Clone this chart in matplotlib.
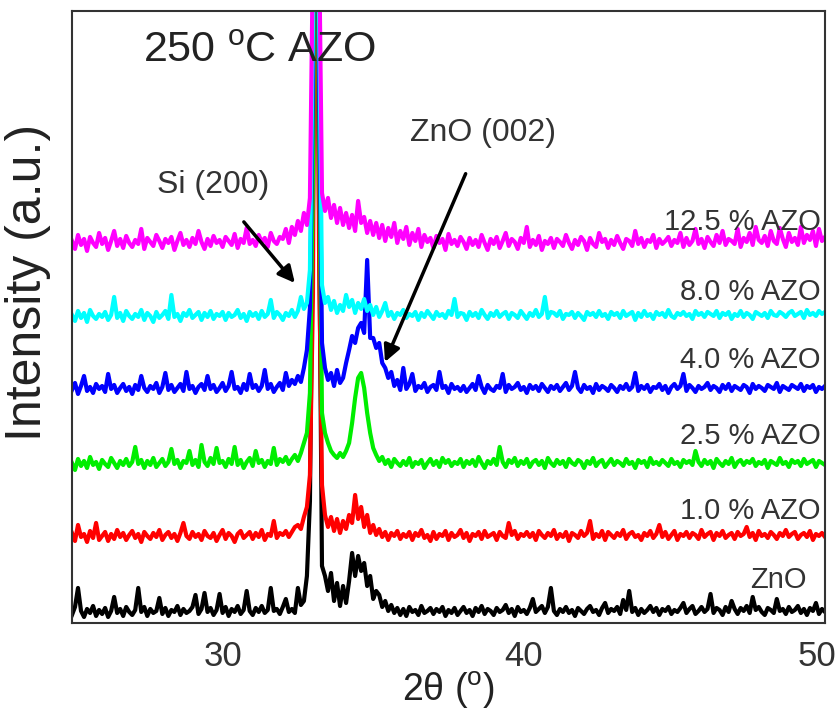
import numpy as np
import matplotlib
matplotlib.use("Agg")
import matplotlib.pyplot as plt
import matplotlib.transforms as mtransforms

plt.rcParams['font.family'] = ['Liberation Sans', 'DejaVu Sans']
plt.rcParams['mathtext.fontset'] = 'custom'
plt.rcParams['mathtext.rm'] = 'Liberation Sans'

# 2theta grid, 0.1 deg steps from 25 to 50
two_theta = np.linspace(25, 50, 251)

# intensities (a.u.), relative to each trace's baseline
zno = [
    6, 14, 33, 10, 4, 12, 8, 15, 5, 11,
    7, 13, 4, 10, 24, 8, 12, 5, 14, 9,
    6, 11, 33, 9, 14, 5, 12, 8, 10, 23,
    7, 13, 5, 11, 9, 15, 6, 12, 8, 10,
    14, 26, 7, 12, 28, 9, 13, 6, 11, 27,
    8, 14, 5, 12, 9, 15, 7, 11, 30, 10,
    6, 13, 9, 15, 8, 11, 33, 10, 12, 7,
    14, 22, 9, 12, 8, 33, 16, 20, 45, 120,
    420, 900, 420, 55, 45, 30, 48, 20, 38, 15,
    35, 18, 40, 68, 45, 65, 50, 58, 35, 45,
    22, 30, 26, 14, 20, 10, 16, 8, 13, 6,
    12, 5, 14, 9, 11, 6, 15, 8, 10, 13,
    7, 12, 9, 14, 5, 11, 8, 13, 6, 10,
    14, 8, 11, 5, 13, 9, 15, 7, 12, 10,
    6, 13, 9, 11, 16, 8, 12, 5, 14, 9,
    11, 7, 13, 22, 9, 12, 15, 8, 14, 33,
    10, 6, 12, 9, 14, 8, 11, 5, 13, 10,
    7, 12, 15, 9, 11, 6, 13, 18, 8, 12,
    10, 14, 7, 21, 11, 30, 9, 13, 6, 12,
    8, 11, 15, 9, 13, 6, 12, 10, 14, 7,
    11, 9, 13, 18, 8, 12, 15, 7, 10, 14,
    9, 12, 27, 8, 13, 11, 6, 14, 9, 20,
    12, 7, 13, 10, 15, 8, 24, 11, 14, 9,
    6, 13, 11, 8, 22, 10, 12, 7, 14, 9,
    11, 15, 8, 12, 6, 13, 10, 18, 7, 12,
    9,
]
azo_1_0 = [
    12, 4, 20, 8, 11, 3, 14, 7, 22, 5,
    9, 13, 4, 11, 6, 15, 8, 12, 5, 10,
    14, 7, 11, 3, 13, 9, 6, 12, 8, 15,
    5, 10, 13, 7, 11, 4, 12, 22, 9, 6,
    13, 8, 11, 5, 14, 9, 7, 12, 4, 10,
    15, 6, 12, 9, 3, 11, 14, 7, 10, 13,
    6, 12, 8, 15, 5, 11, 9, 24, 7, 12,
    10, 14, 8, 13, 18, 20, 16, 28, 38, 70,
    250, 900, 300, 60, 30, 18, 28, 14, 26, 12,
    24, 16, 30, 22, 50, 26, 38, 18, 30, 12,
    20, 10, 16, 8, 13, 5, 12, 9, 14, 6,
    11, 8, 13, 5, 12, 9, 15, 7, 10, 4,
    13, 6, 11, 9, 14, 5, 12, 8, 10, 15,
    7, 12, 4, 11, 9, 13, 6, 14, 8, 10,
    12, 5, 13, 9, 7, 22, 10, 14, 6, 11,
    9, 13, 8, 12, 5, 14, 10, 7, 12, 9,
    15, 6, 11, 8, 13, 4, 12, 10, 7, 14,
    9, 12, 24, 6, 11, 8, 14, 5, 13, 10,
    7, 12, 9, 15, 6, 11, 13, 8, 10, 5,
    12, 9, 14, 7, 11, 20, 8, 13, 6, 10,
    14, 5, 11, 9, 13, 7, 12, 10, 6, 15,
    8, 11, 13, 5, 12, 9, 14, 7, 10, 12,
    6, 13, 9, 11, 18, 8, 12, 5, 14, 9,
    11, 7, 13, 10, 6, 12, 9, 15, 8, 11,
    13, 6, 10, 12, 8, 14, 5, 11, 9, 12,
    8,
]
azo_2_5 = [
    10, 3, 14, 7, 12, 5, 16, 8, 11, 4,
    13, 9, 6, 15, 10, 5, 12, 8, 14, 7,
    11, 26, 9, 13, 5, 12, 8, 15, 6, 10,
    14, 7, 11, 24, 9, 13, 5, 12, 10, 22,
    8, 13, 6, 28, 11, 7, 15, 9, 25, 10,
    12, 6, 14, 9, 26, 8, 13, 5, 11, 15,
    7, 22, 10, 13, 6, 12, 9, 25, 8, 14,
    11, 16, 9, 14, 18, 12, 20, 30, 40, 80,
    300, 900, 350, 60, 40, 30, 22, 18, 15, 20,
    16, 22, 30, 50, 75, 95, 100, 85, 60, 40,
    25, 18, 12, 16, 9, 13, 6, 14, 10, 7,
    12, 8, 15, 6, 11, 9, 13, 5, 10, 14,
    8, 12, 6, 15, 10, 13, 7, 11, 9, 14,
    6, 12, 9, 13, 7, 16, 10, 5, 12, 9,
    14, 8, 26, 11, 6, 13, 10, 15, 7, 12,
    9, 14, 6, 11, 13, 8, 12, 5, 15, 10,
    7, 13, 9, 12, 6, 14, 10, 8, 13, 11,
    5, 12, 9, 15, 7, 11, 13, 6, 10, 14,
    8, 12, 10, 7, 14, 9, 11, 5, 13, 10,
    12, 6, 15, 9, 11, 8, 13, 10, 7, 14,
    9, 11, 6, 13, 10, 12, 8, 22, 11, 7,
    13, 9, 12, 5, 14, 10, 7, 12, 9, 15,
    6, 11, 13, 8, 12, 10, 14, 7, 11, 9,
    13, 5, 12, 10, 8, 15, 9, 11, 6, 13,
    10, 12, 7, 14, 9, 11, 13, 6, 12, 10,
    8,
]
azo_4_0 = [
    8, 15, 4, 12, 22, 7, 11, 5, 14, 9,
    12, 6, 24, 9, 13, 5, 10, 14, 7, 11,
    4, 13, 8, 22, 10, 6, 12, 9, 15, 5,
    11, 25, 8, 13, 6, 10, 14, 7, 26, 9,
    12, 5, 11, 14, 8, 22, 9, 13, 6, 10,
    15, 7, 12, 26, 9, 11, 5, 14, 8, 24,
    10, 13, 7, 12, 28, 9, 14, 6, 11, 15,
    8, 25, 12, 18, 14, 22, 16, 30, 48, 90,
    320, 900, 330, 55, 30, 18, 25, 12, 28, 15,
    20, 35, 48, 62, 55, 70, 75, 65, 138, 60,
    60, 50, 55, 35, 30, 20, 26, 12, 18, 8,
    30, 9, 14, 24, 7, 12, 10, 15, 6, 11,
    13, 8, 26, 10, 12, 5, 14, 9, 11, 7,
    12, 6, 10, 14, 8, 22, 11, 5, 13, 9,
    7, 12, 10, 24, 6, 13, 9, 11, 15, 8,
    11, 5, 13, 9, 12, 7, 14, 10, 6, 12,
    9, 13, 7, 11, 15, 8, 12, 26, 10, 6,
    13, 9, 11, 5, 14, 8, 12, 10, 7, 13,
    10, 6, 12, 9, 14, 8, 11, 25, 7, 12,
    9, 13, 6, 11, 10, 14, 8, 12, 5, 11,
    14, 9, 12, 24, 7, 13, 10, 6, 12, 9,
    11, 15, 8, 12, 10, 6, 13, 9, 14, 7,
    12, 10, 8, 13, 11, 5, 14, 9, 12, 10,
    7, 13, 11, 9, 15, 6, 12, 10, 8, 13,
    11, 9, 14, 7, 12, 10, 13, 6, 11, 9,
    12,
]
azo_8_0 = [
    10, 4, 14, 7, 12, 3, 15, 9, 6, 11,
    8, 13, 5, 10, 28, 7, 12, 4, 14, 9,
    6, 11, 8, 15, 5, 12, 9, 3, 13, 7,
    10, 14, 6, 30, 8, 11, 4, 12, 9, 15,
    7, 10, 13, 5, 12, 8, 14, 6, 11, 9,
    13, 5, 12, 8, 10, 15, 7, 11, 4, 13,
    9, 12, 6, 14, 8, 11, 25, 7, 13, 10,
    5, 12, 9, 15, 8, 14, 28, 16, 22, 55,
    300, 900, 320, 40, 22, 28, 15, 24, 12, 20,
    14, 30, 18, 25, 12, 22, 16, 26, 14, 20,
    10, 18, 8, 14, 22, 9, 13, 6, 12, 10,
    15, 7, 11, 9, 13, 5, 12, 8, 14, 10,
    6, 13, 9, 11, 7, 14, 10, 26, 8, 12,
    11, 5, 13, 9, 12, 7, 15, 10, 6, 12,
    9, 14, 8, 11, 13, 6, 12, 10, 7, 14,
    10, 6, 12, 9, 15, 8, 11, 28, 7, 13,
    12, 9, 14, 6, 11, 10, 13, 7, 12, 9,
    5, 13, 10, 12, 8, 14, 9, 11, 6, 13,
    10, 12, 7, 14, 9, 11, 13, 5, 12, 8,
    14, 9, 11, 6, 13, 10, 12, 8, 15, 9,
    7, 12, 10, 13, 9, 11, 6, 14, 10, 12,
    8, 13, 11, 9, 14, 7, 12, 10, 13, 6,
    11, 9, 14, 8, 12, 10, 6, 13, 11, 9,
    12, 7, 14, 10, 9, 13, 11, 8, 12, 14,
    9, 11, 13, 7, 15, 10, 12, 9, 14, 11,
    13,
]
azo_12_5 = [
    12, 4, 18, 8, 14, 2, 16, 10, 6, 20,
    9, 15, 3, 12, 22, 7, 14, 5, 17, 10,
    6, 13, 9, 24, 4, 15, 11, 7, 18, 12,
    5, 14, 10, 16, 3, 12, 20, 8, 13, 6,
    15, 9, 22, 11, 4, 14, 7, 17, 10, 13,
    6, 16, 12, 8, 19, 5, 14, 10, 25, 9,
    13, 7, 18, 11, 15, 6, 20, 12, 9, 16,
    14, 24, 10, 26, 18, 32, 22, 40, 28, 55,
    300, 900, 320, 60, 42, 55, 35, 48, 30, 45,
    28, 40, 25, 38, 22, 52, 30, 36, 20, 32,
    18, 30, 15, 28, 12, 25, 16, 30, 10, 22,
    14, 26, 8, 20, 12, 24, 6, 18, 11, 15,
    5, 17, 10, 14, 3, 19, 9, 13, 7, 16,
    11, 4, 15, 8, 13, 6, 18, 10, 3, 14,
    9, 16, 5, 12, 20, 7, 14, 11, 4, 15,
    10, 26, 6, 13, 8, 17, 3, 12, 9, 15,
    5, 14, 11, 7, 18, 10, 4, 13, 8, 16,
    12, 3, 15, 9, 6, 20, 11, 14, 5, 13,
    8, 17, 10, 4, 14, 12, 7, 22, 9, 15,
    6, 13, 11, 18, 5, 14, 9, 12, 16, 7,
    13, 10, 20, 6, 15, 8, 12, 24, 9, 14,
    5, 16, 11, 7, 18, 10, 22, 8, 14, 12,
    9, 24, 6, 15, 11, 20, 8, 26, 13, 10,
    17, 7, 22, 12, 9, 25, 14, 6, 20, 11,
    15, 8, 26, 10, 18, 13, 22, 7, 24, 12,
    16,
]

series = [zno, azo_1_0, azo_2_5, azo_4_0, azo_8_0, azo_12_5]
labels = ["ZnO", "1.0 % AZO", "2.5 % AZO", "4.0 % AZO", "8.0 % AZO", "12.5 % AZO"]
colors = ["black", "#ff0000", "#00ee00", "#0000ff", "#00ffff", "#ff00ff"]
offsets = [2, 78, 150, 225, 298, 370]
label_y = [43, 112, 187, 263, 331, 401]

fig = plt.figure(figsize=(8.39, 7.15), dpi=100)
ax = fig.add_axes([0.0858, 0.1287, 0.8975, 0.856])

for vals, c, off in zip(series, colors, offsets):
    ax.plot(two_theta, np.array(vals) + off, color=c, lw=3.0)

for lab, ly in zip(labels, label_y):
    ax.text(49.85 if lab != "ZnO" else 49.4, ly, lab, ha='right', va='center',
            fontsize=21, color='#333333')

ax.text(27.36, 572, r"250 $^{\mathrm{o}}$C AZO", ha='left', va='center',
        fontsize=31, color='#222222')

ax.annotate("Si (200)", xy=(32.40, 340), xytext=(29.68, 438),
            ha='center', va='center', fontsize=23, color='#333333',
            arrowprops=dict(arrowstyle='-|>', color='black', lw=2.5,
                            mutation_scale=25, shrinkA=18, shrinkB=0))
ax.annotate("ZnO (002)", xy=(35.39, 261), xytext=(38.65, 490),
            ha='center', va='center', fontsize=23, color='#333333',
            arrowprops=dict(arrowstyle='-|>', color='black', lw=2.5,
                            mutation_scale=25, shrinkA=18, shrinkB=0))

ax.set_xlim(25, 50)
ax.set_ylim(0, 612)
ax.set_xticks([30, 40, 50])
ax.set_yticks([])
ax.tick_params(axis='x', length=0, labelsize=25, labelcolor='#333333', pad=12)
for s in ax.spines.values():
    s.set_color('#333333')
    s.set_linewidth(1.5)

# pull the last tick label a little left so it stays inside the figure
last = ax.get_xticklabels()[-1]
last.set_transform(last.get_transform() +
                   mtransforms.ScaledTranslation(-8 / 100, 0, fig.dpi_scale_trans))

ax.set_xlabel(r"2θ ($^{\mathrm{o}}$)", fontsize=27, color='#222222', labelpad=-2)
ax.set_ylabel("Intensity (a.u.)", fontsize=36, color='#222222')
ax.yaxis.set_label_coords(-0.028, 0.557)

fig.savefig("out.png", dpi=100)
